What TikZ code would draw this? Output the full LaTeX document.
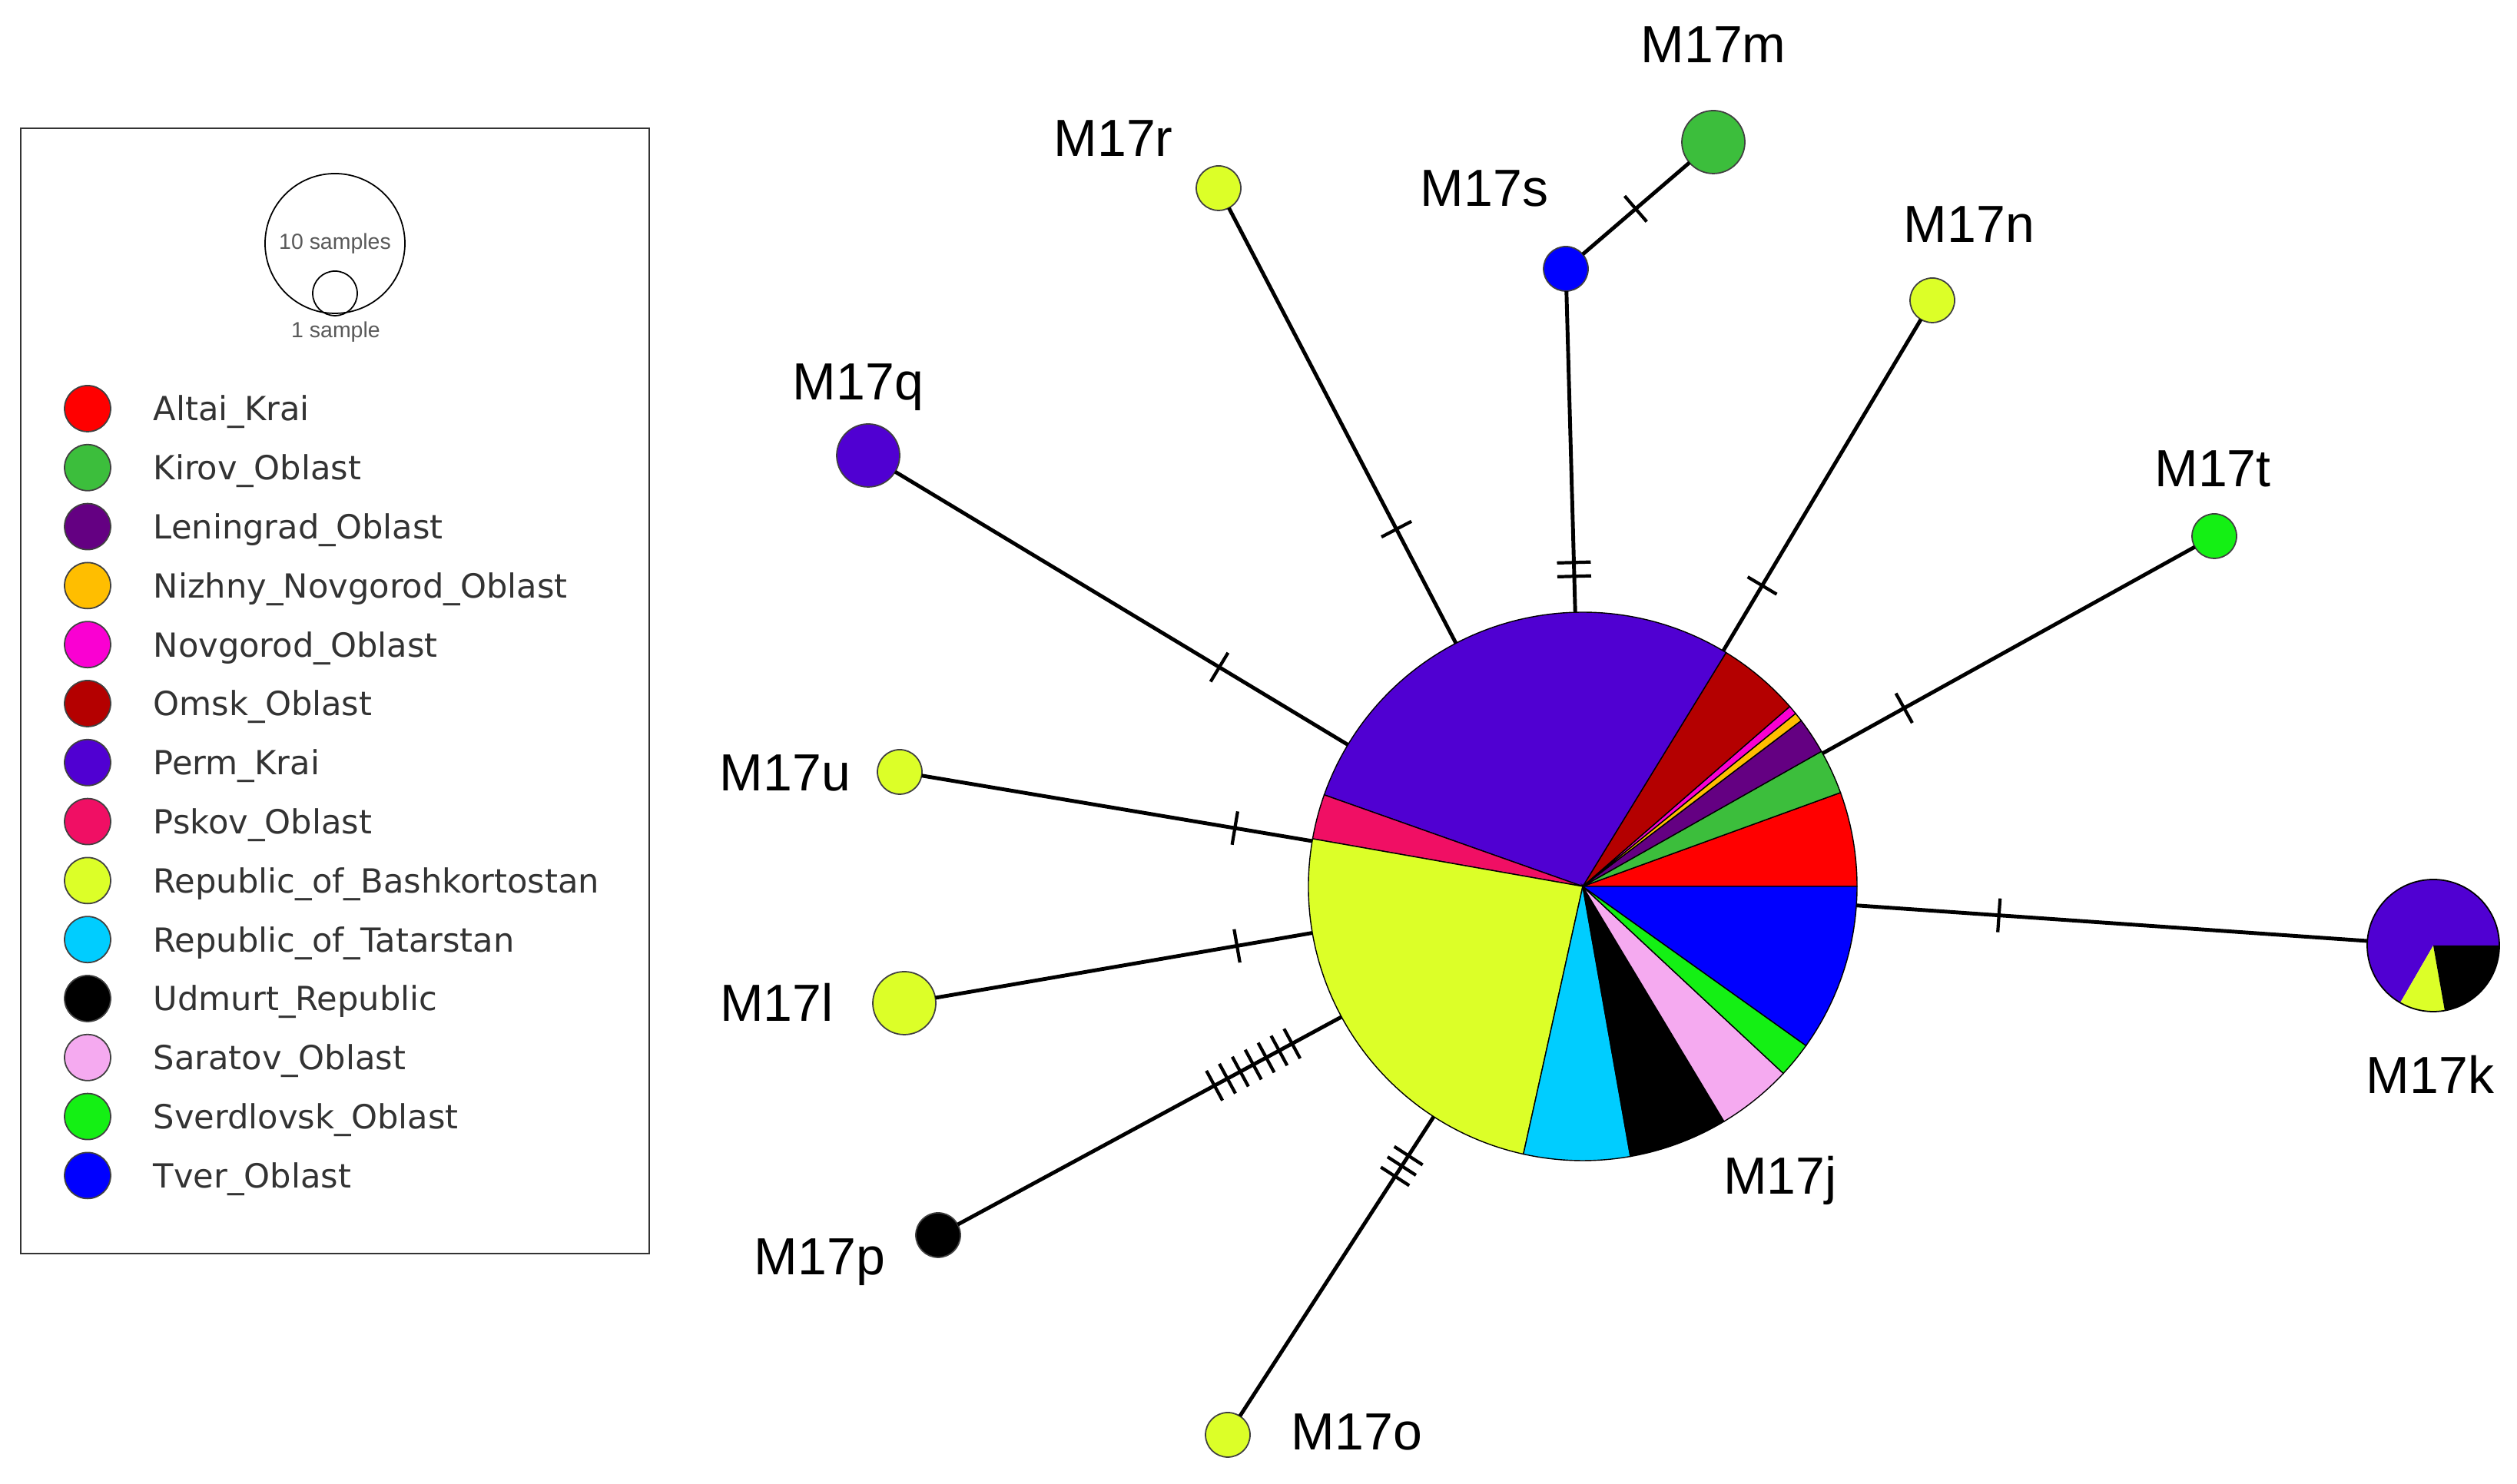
\documentclass[tikz,border=0pt]{standalone}
\usepackage{fontspec}
\setmainfont{Liberation Sans}
\newfontfamily\legendfont{DejaVu Sans}
\usetikzlibrary{decorations.markings}

\definecolor{altai}{RGB}{255,0,0}
\definecolor{kirov}{RGB}{60,190,60}
\definecolor{leningrad}{RGB}{100,0,130}
\definecolor{nizhny}{RGB}{255,190,0}
\definecolor{novgorod}{RGB}{250,0,210}
\definecolor{omsk}{RGB}{180,0,0}
\definecolor{perm}{RGB}{80,0,210}
\definecolor{pskov}{RGB}{240,15,100}
\definecolor{bashk}{RGB}{220,255,40}
\definecolor{tatar}{RGB}{0,205,255}
\definecolor{udmurt}{RGB}{0,0,0}
\definecolor{saratov}{RGB}{245,170,240}
\definecolor{sverdlovsk}{RGB}{20,240,20}
\definecolor{tver}{RGB}{0,0,255}

\begin{document}
\begin{tikzpicture}
[hapNode/.style={shape=circle,inner sep=0pt,outer sep=0pt,draw=black!75,line width=0.5pt},%
  pieNode/.style={shape=circle,inner sep=0pt,outer sep=0pt},%
  lineDecorate/.style={-,line width=1.4pt},%
  tickMarks/.style n args={3}{postaction={decorate},decoration={markings,
    mark=between positions #1 and #2 step #3 with {\draw[line width=1.2pt] (0,-0.22) -- (0,0.22);}}},%
  hapLabel/.style={anchor=base,inner sep=0pt,font=\fontsize{19.35}{23}\selectfont},%
  legendText/.style={anchor=base west,inner sep=0pt,text=black!80,font=\legendfont\fontsize{12.3}{15}\selectfont},%
  scaleText/.style={inner sep=0pt,text=black!65,font=\fontsize{8.1}{10}\selectfont}]
\useasboundingbox (0,0) rectangle (32.76,19.32);

%% central haplotype (pie)
\node (M17j) at (20.60,7.78) [pieNode,minimum size=7.14cm] {};
\foreach \from/\to/\col in {0/20/altai, 20/29.5/kirov, 29.5/37.2/leningrad, 37.2/39.1/nizhny,
  39.1/41/novgorod, 41/58.5/omsk, 58.5/160.5/perm, 160.5/170/pskov, 170/257.5/bashk,
  257.5/280/tatar, 280/301/udmurt, 301/317/saratov, 317/324.5/sverdlovsk, 324.5/360/tver} {
  \filldraw[fill=\col,draw=black,line width=0.4pt] (M17j.center) -- ++(\from:3.57)
    arc[start angle=\from,end angle=\to,radius=3.57] -- cycle;
}

%% M17k (pie)
\node (M17k) at (31.67,7.01) [pieNode,minimum size=1.72cm] {};
\foreach \from/\to/\col in {0/240/perm, 240/280/bashk, 280/360/udmurt} {
  \fill[\col] (M17k.center) -- ++(\from:0.86)
    arc[start angle=\from,end angle=\to,radius=0.86] -- cycle;
}
\draw[line width=0.5pt] (M17k.center) circle[radius=0.86];

%% small haplotypes
\foreach \nodename/\x/\y/\col/\d in {M17m/22.30/17.47/kirov/0.82, M17s/20.38/15.82/tver/0.58,
  M17r/15.86/16.87/bashk/0.58, M17n/25.15/15.41/bashk/0.58, M17t/28.82/12.34/sverdlovsk/0.58,
  M17q/11.30/13.39/perm/0.82, M17u/11.71/9.27/bashk/0.58, M17l/11.77/6.26/bashk/0.82,
  M17p/12.21/3.24/udmurt/0.58, M17o/15.98/0.64/bashk/0.58} {
  \node (\nodename) at (\x,\y) [hapNode,fill=\col,minimum size=\d cm] {};
}

%% edges with mutation ticks
\foreach \startnode/\endnode/\first/\last/\gap in {M17r/M17j/0.738/0.75/0.1,
  M17s/M17j/0.845/0.89/0.043, M17m/M17s/0.504/0.51/0.1, M17n/M17j/0.803/0.81/0.1,
  M17t/M17j/0.781/0.79/0.1, M17k/M17j/0.721/0.73/0.1, M17q/M17j/0.716/0.72/0.1,
  M17u/M17j/0.802/0.81/0.1, M17l/M17j/0.800/0.81/0.1, M17p/M17j/0.669/0.875/0.0337,
  M17o/M17j/0.8005/0.875/0.0345} {
  \draw[lineDecorate,tickMarks={\first}{\last}{\gap}] (\startnode) -- (\endnode);
}

%% haplotype names
\foreach \nodename/\x/\y in {M17j/23.17/3.77, M17k/31.63/5.08, M17m/22.30/18.50,
  M17s/19.32/16.63, M17r/14.49/17.28, M17n/25.63/16.16, M17t/28.80/12.98, M17q/11.17/14.11,
  M17u/10.22/9.02, M17l/10.11/6.02, M17p/10.67/2.72, M17o/17.66/0.44} {
  \node (lbl-\nodename) at (\x,\y) [hapLabel] {\nodename};
}

%% legend
\node (legendBox) at (4.36,10.325) [draw=black!80,line width=0.8pt,minimum width=8.18cm,
  minimum height=14.65cm,inner sep=0pt] {};
\node (scaleTen) at (4.36,16.15) [circle,draw,line width=0.5pt,minimum size=1.82cm,
  inner sep=0pt,scaleText] {10 samples};
\node (scaleOne) at (4.36,15.50) [circle,draw,line width=0.5pt,minimum size=0.58cm,
  inner sep=0pt] {};
\node (lbl-scaleOne) at (4.37,15.00) [scaleText] {1 sample};
\foreach \region/\col [count=\i from 0] in {Altai\_Krai/altai, Kirov\_Oblast/kirov,
  Leningrad\_Oblast/leningrad, Nizhny\_Novgorod\_Oblast/nizhny, Novgorod\_Oblast/novgorod,
  Omsk\_Oblast/omsk, Perm\_Krai/perm, Pskov\_Oblast/pskov,
  Republic\_of\_Bashkortostan/bashk, Republic\_of\_Tatarstan/tatar,
  Udmurt\_Republic/udmurt, Saratov\_Oblast/saratov, Sverdlovsk\_Oblast/sverdlovsk,
  Tver\_Oblast/tver} {
  \node (dot\i) at (1.14,14.00-0.768*\i) [hapNode,fill=\col,minimum size=0.6cm] {};
  \node (entry\i) at (1.99,13.84-0.768*\i) [legendText] {\region};
}
\end{tikzpicture}
\end{document}
